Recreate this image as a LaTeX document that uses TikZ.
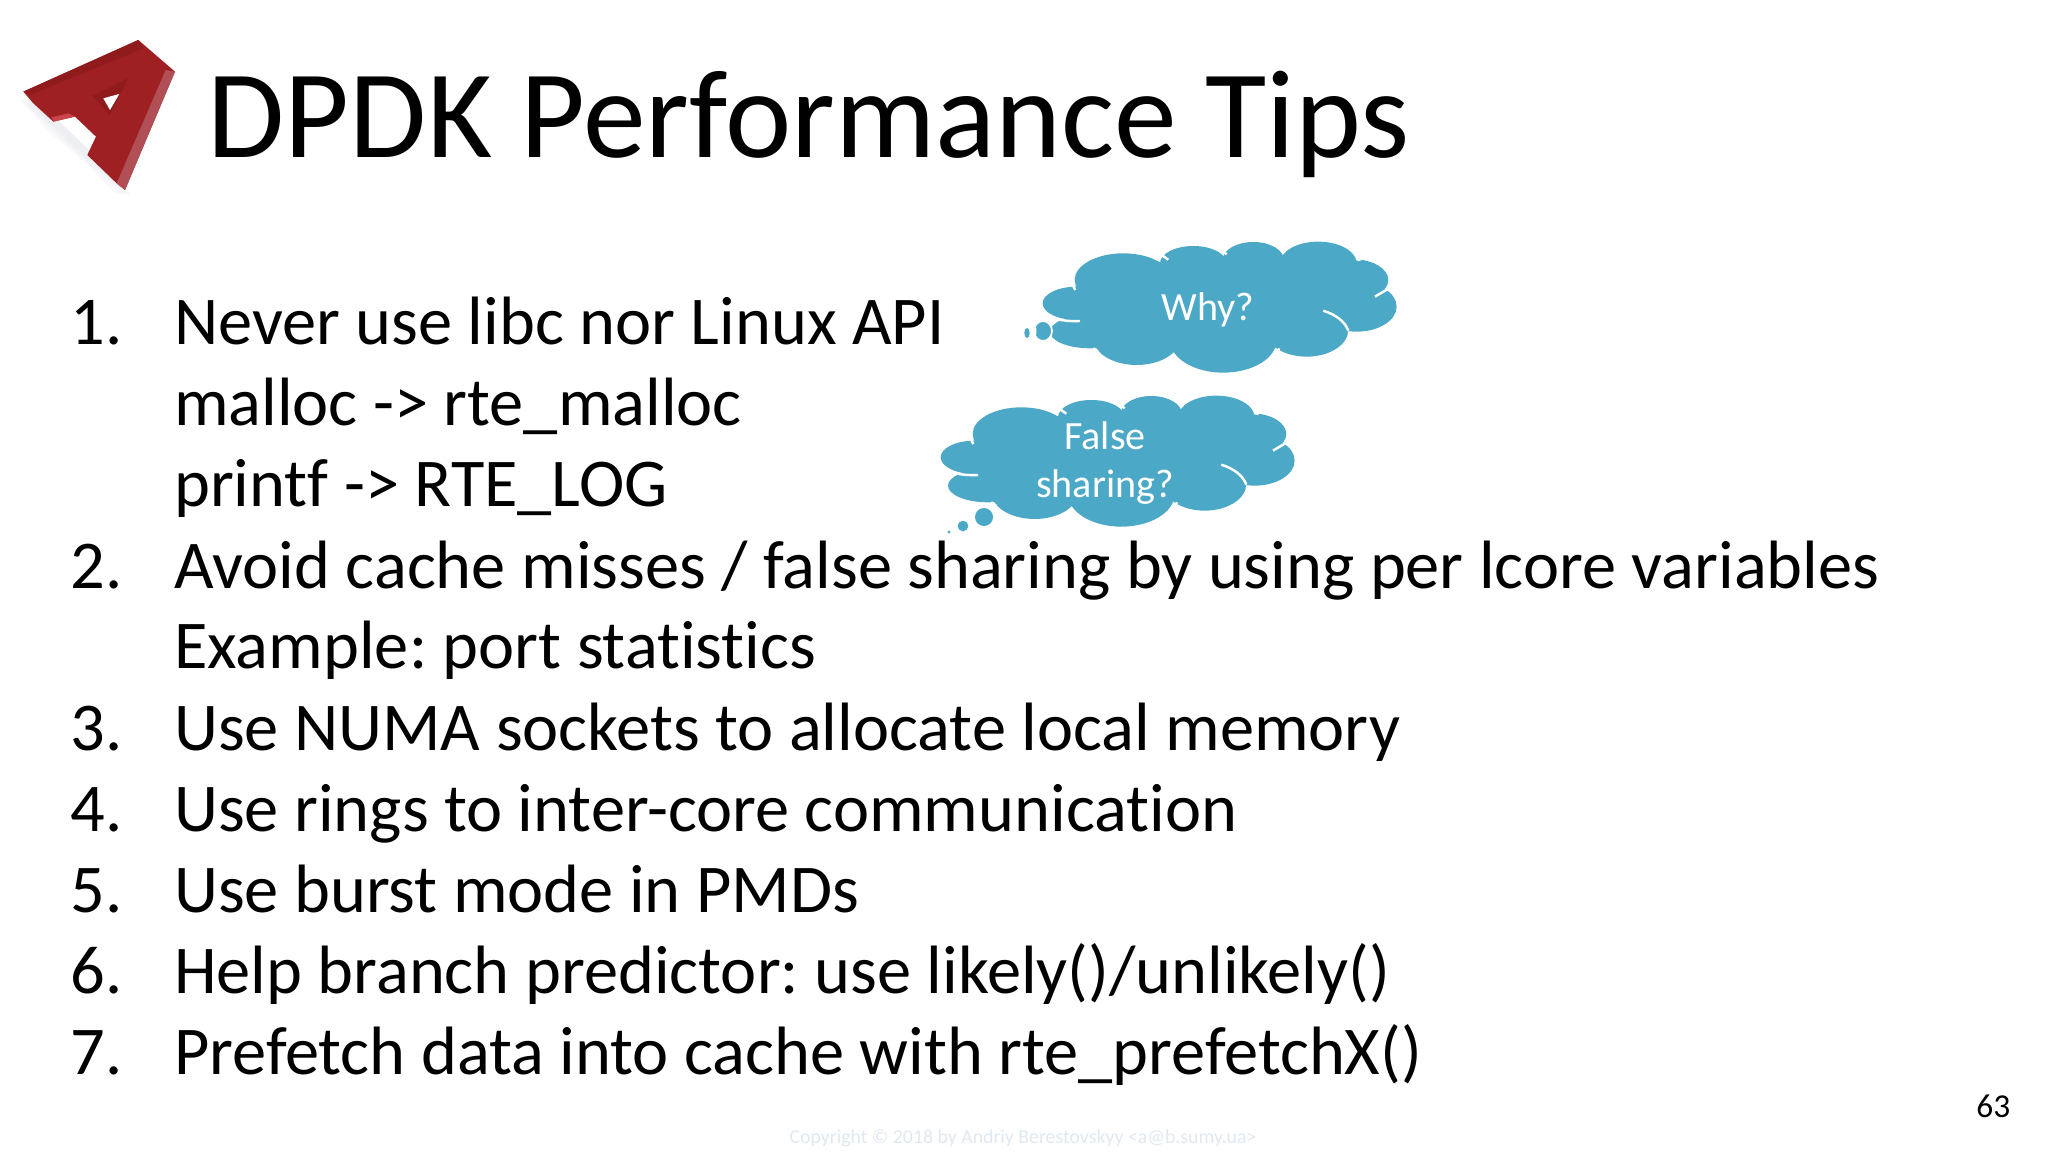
\documentclass[tikz,border=0pt]{standalone}
\usepackage{fontspec}
\setmainfont[Ligatures=NoCommon]{Carlito}
\definecolor{cloudblue}{HTML}{4BA8C6}
\definecolor{logored}{HTML}{9E2023}
\definecolor{logoside}{HTML}{B04F55}
\definecolor{logodark}{HTML}{8F1B1C}
\definecolor{logoglow}{HTML}{C8444A}
\definecolor{faintblue}{HTML}{E0E9F2}
\definecolor{shadowgray}{HTML}{B8BCD0}
\tikzset{
  bodytext/.style={anchor=base west,inner sep=0pt,font=\fontsize{19.45}{23}\selectfont},
  cloudtext/.style={text=white,align=center,inner sep=0pt,font=\fontsize{11.4}{13.4}\selectfont},
  notch/.style={draw=white,line width=0.7pt},
  bubble/.style={fill=cloudblue,draw=none},
  logoshadow/.style={fill=shadowgray,fill opacity=0.08,draw=none},
  thought/.pic={
    \fill[cloudblue] (470,250) ellipse [x radius=102,y radius=50];
    \fill[cloudblue] (510,335) ellipse [x radius=120,y radius=50];
    \fill[cloudblue] (610,180) ellipse [x radius=146,y radius=80];
    \fill[cloudblue] (650,355) ellipse [x radius=130,y radius=80];
    \fill[cloudblue] (820,130) ellipse [x radius=100,y radius=52];
    \fill[cloudblue] (1000,120) ellipse [x radius=92,y radius=54];
    \fill[cloudblue] (1195,130) ellipse [x radius=115,y radius=65];
    \fill[cloudblue] (1300,180) ellipse [x radius=105,y radius=62];
    \fill[cloudblue] (1310,260) ellipse [x radius=120,y radius=75];
    \fill[cloudblue] (1160,330) ellipse [x radius=125,y radius=80];
    \fill[cloudblue] (910,360) ellipse [x radius=160,y radius=98];
    \fill[cloudblue] (520,130) rectangle (1250,340);
    \draw[notch] (1210,272) .. controls (1250,285) and (1275,305) .. (1285,332);
    \draw[notch] (1365,230) -- (1402,208);
    \draw[notch] (400,295) .. controls (430,303) and (455,304) .. (480,303);
    \draw[notch] (725,105) -- (745,119);
    \draw[notch] (908,93) -- (920,103);
    \draw[notch] (1080,84) -- (1092,97);
    \draw[notch] (1308,117) -- (1322,120);
    \draw[notch] (460,198) -- (466,210);
    \draw[notch] (520,385) -- (535,396);
    \draw[notch] (755,408) -- (770,425);
    \draw[notch] (1077,385) -- (1070,405);
  }
}
\begin{document}
\frenchspacing
\begin{tikzpicture}[x=0.01cm,y=-0.01cm]
  \useasboundingbox[fill=white] (0,0) rectangle (2048,1152);
  % logo
  \begin{scope}[shift={(0,20)},scale=0.3333]
    \fill[logoshadow] (60,240) -- (150,340) -- (250,420) -- (345,520) -- (395,525) -- (350,470) -- (100,230) -- cycle;
    \fill[logoshadow] (75,250) -- (150,325) -- (260,425) -- (350,505) -- (380,515) -- (350,470) -- (100,230) -- cycle;
    \fill[logoshadow] (85,255) -- (160,320) -- (265,420) -- (350,495) -- (370,505) -- (350,470) -- (100,230) -- cycle;
    \fill[logored] (70,215) -- (415,60) -- (525,155) -- (375,510) -- (350,490) -- (262,405)
      -- (288,350) -- (225,290) -- (160,305) -- (100,250) -- cycle;
    \fill[logoside] (497,150) -- (525,155) -- (375,510) -- (350,490) -- cycle;
    \fill[logodark] (70,215) -- (415,60) -- (430,85) -- (90,225) -- cycle;
    \fill[logoglow] (160,305) -- (225,290) -- (205,280) -- (155,292) -- cycle;
    \fill[logodark] (278,228) -- (385,175) -- (330,285) -- cycle;
    \fill[white] (310,235) -- (358,222) -- (330,270) -- cycle;
  \end{scope}
  % title
  \node[anchor=base west,inner sep=0pt,font=\fontsize{35.7}{40}\selectfont] (title) at (207,158) {DPDK Performance Tips};
  % list
  \foreach \idx/\ypos/\linetext in {
    1/345/{Never use libc nor Linux API},
    a/426/{malloc -> rte\_malloc},
    b/507/{printf -> RTE\_LOG},
    2/588/{Avoid cache misses / false sharing by using per lcore variables},
    c/669/{Example: port statistics},
    3/750/{Use NUMA sockets to allocate local memory},
    4/831/{Use rings to inter-core communication},
    5/912/{Use burst mode in PMDs},
    6/993/{Help branch predictor: use likely()/unlikely()},
    7/1074/{Prefetch data into cache with rte\_prefetchX()}}
    \node[bodytext] (line\idx) at (173.5,\ypos) {\linetext};
  \foreach \idx/\ypos in {1/345,2/588,3/750,4/831,5/912,6/993,7/1074}
    \node[bodytext] (num\idx) at (70,\ypos) {\idx.};
  % clouds
  \pic[scale=0.3333] at (920,220) {thought};
  \pic[scale=0.3333] at (818,374) {thought};
  \node[cloudtext] (why) at (1208,310) {Why?};
  \node[cloudtext] (false) at (1105,463) {False\\sharing?};
  % bubbles
  \fill[bubble] (1027,333) ellipse [x radius=2.7,y radius=5];
  \draw[bubble,draw=white,line width=0.5pt] (1043,331) ellipse [x radius=9,y radius=10];
  \fill[white] (1034,331) ellipse [x radius=2.5,y radius=6];
  \fill[bubble] (984,517) circle (9);
  \fill[bubble] (963,526) circle (5.3);
  \fill[bubble] (949,532) circle (1.6);
  % footer
  \node[anchor=base,inner sep=0pt,text=faintblue,font=\fontsize{5.63}{8}\selectfont] (copyright) at (1023,1143) {Copyright © 2018 by Andriy Berestovskyy <a@b.sumy.ua>};
  \node[anchor=base east,inner sep=0pt,font=\fontsize{9.5}{11}\selectfont] (pagenum) at (2011,1117) {63};
\end{tikzpicture}
\end{document}
